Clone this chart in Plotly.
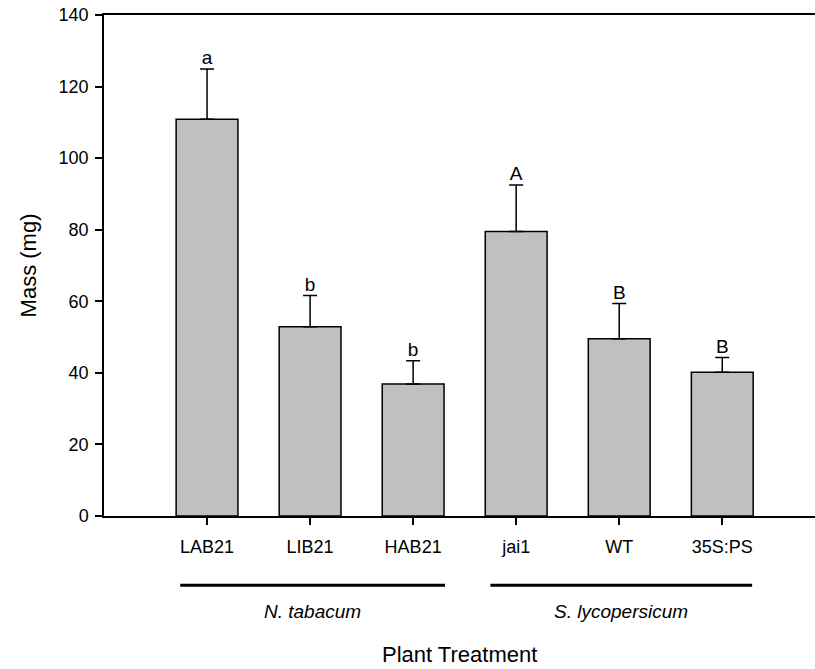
import plotly.graph_objects as go

categories = ["LAB21", "LIB21", "HAB21", "jai1", "WT", "35S:PS"]
means = [110.9, 52.9, 36.9, 79.5, 49.5, 40.2]
errors = [14.0, 8.7, 6.5, 13.0, 9.9, 4.1]
letters = ["a", "b", "b", "A", "B", "B"]
groups = ["<i>N. tabacum</i>", "<i>S. lycopersicum</i>"]
group_spans = [(-0.26, 2.31), (2.75, 5.29)]

FONT = "Liberation Sans, Arial, sans-serif"
x = list(range(len(categories)))

fig = go.Figure()
fig.add_trace(go.Bar(
    x=x, y=means, width=0.6,
    marker=dict(color="rgb(192,192,192)", line=dict(color="black", width=1.5)),
    error_y=dict(type="data", array=errors, arrayminus=[0] * len(errors),
                 symmetric=False, color="black", thickness=1.5, width=7),
    showlegend=False,
))
fig.add_trace(go.Scatter(
    x=x, y=[m + e for m, e in zip(means, errors)], mode="text",
    text=letters, textposition="top center",
    textfont=dict(family=FONT, size=19, color="black"),
    showlegend=False, cliponaxis=False,
))

for (x0, x1), g in zip(group_spans, groups):
    fig.add_shape(type="line", xref="x", yref="paper", x0=x0, x1=x1,
                  y0=-0.138, y1=-0.138, line=dict(color="black", width=3))
    fig.add_annotation(xref="x", yref="paper", x=(x0 + x1) / 2, y=-0.19,
                       text=g, showarrow=False, yanchor="middle",
                       font=dict(family=FONT, size=19, color="black"))

fig.add_annotation(xref="paper", yref="paper", x=0.5, y=-0.277, text="Plant Treatment",
                   showarrow=False, yanchor="middle",
                   font=dict(family=FONT, size=22, color="black"))

fig.update_layout(
    width=815, height=669,
    margin=dict(l=104, r=0, t=15, b=153),
    plot_bgcolor="white", paper_bgcolor="white",
    font=dict(family=FONT, size=18, color="black"),
    bargap=0.4,
)
fig.update_xaxes(
    range=[-1.0, 5.9], tickmode="array", tickvals=x, ticktext=categories,
    showline=True, linecolor="black", linewidth=1.5, mirror=True,
    ticks="outside", ticklen=7, tickwidth=1.5, tickcolor="black",
    showgrid=False, zeroline=False, tickfont=dict(family=FONT, size=18),
    ticklabelstandoff=7,
)
fig.update_yaxes(
    range=[0, 140], tickvals=[0, 20, 40, 60, 80, 100, 120, 140],
    showline=True, linecolor="black", linewidth=1.5, mirror=False,
    ticks="outside", ticklen=7, tickwidth=1.5, tickcolor="black",
    showgrid=False, zeroline=False, tickfont=dict(family=FONT, size=18),
    ticklabelstandoff=3,
    title=dict(text="Mass (mg)", font=dict(family=FONT, size=22), standoff=16),
)

fig.write_html("out.html")
